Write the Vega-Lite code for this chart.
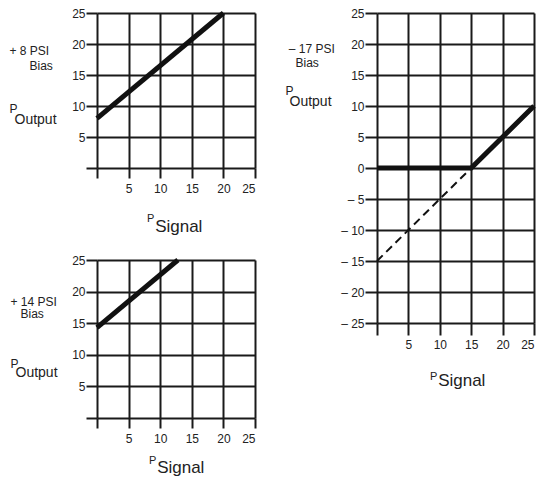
{
  "$schema": "https://vega.github.io/schema/vega-lite/v6.json",
  "background": "white",
  "padding": {"left": 9, "top": 3, "right": 0, "bottom": 0},
  "config": {
    "font": "Liberation Sans",
    "view": {"stroke": null},
    "axis": {
      "grid": true,
      "gridColor": "#1a1a1a",
      "gridWidth": 2,
      "gridOpacity": 1,
      "domain": false,
      "tickColor": "#1a1a1a",
      "tickWidth": 2,
      "labelFontSize": 12,
      "labelColor": "#222222",
      "titleColor": "#222222",
      "titleFontWeight": "normal",
      "titleAngle": 0,
      "titleAlign": "left",
      "titleBaseline": "alphabetic"
    },
    "axisX": {"tickSize": 10, "labelPadding": 5},
    "axisY": {"tickSize": 11, "labelPadding": 1},
    "title": {
      "orient": "bottom",
      "anchor": "start",
      "frame": "group",
      "align": "left",
      "fontSize": 11,
      "fontWeight": "normal",
      "color": "#222222",
      "subtitleFontSize": 17,
      "subtitleColor": "#222222",
      "subtitleFontWeight": "normal"
    }
  },
  "datasets": {
    "plus8": [
      {"signal": 0, "output": 8},
      {"signal": 20, "output": 25}
    ],
    "plus14": [
      {"signal": 0, "output": 14.3},
      {"signal": 12.8, "output": 25}
    ],
    "minus17": [
      {"series": "output", "signal": 0, "output": 0},
      {"series": "output", "signal": 15, "output": 0},
      {"series": "output", "signal": 25, "output": 10},
      {"series": "extrapolated", "signal": 0, "output": -15},
      {"series": "extrapolated", "signal": 15, "output": 0}
    ]
  },
  "spacing": 29,
  "hconcat": [
    {
      "spacing": 15,
      "vconcat": [
        {
          "width": 158,
          "height": 155,
          "data": {"name": "plus8"},
          "title": {"text": "P", "subtitle": "\u200b\u00a0\u2009Signal", "dx": 50, "offset": 19, "subtitlePadding": -5},
          "mark": {"type": "line", "strokeWidth": 5, "color": "#111111"},
          "encoding": {
            "x": {
              "field": "signal", "type": "quantitative",
              "scale": {"domain": [0, 25], "nice": false},
              "axis": {
                "values": [0, 5, 10, 15, 20, 25],
                "labelExpr": "datum.value == 0 ? '' : datum.label",
                "title": "Output", "titleFontSize": 14, "titleX": -83, "titleY": -45
              }
            },
            "y": {
              "field": "output", "type": "quantitative",
              "scale": {"domain": [0, 25], "nice": false},
              "axis": {
                "values": [0, 5, 10, 15, 20, 25],
                "labelExpr": "datum.value == 0 ? '' : datum.label",
                "title": ["+ 8 PSI", "\u200b\u00a0\u00a0\u00a0\u00a0\u00a0\u00a0Bias", "\u200b", "\u200b", "P"],
                "titleFontSize": 12, "titleLineHeight": 14.5, "titleX": -88, "titleY": 41.5
              }
            }
          }
        },
        {
          "width": 158,
          "height": 158,
          "data": {"name": "plus14"},
          "title": {"text": "P", "subtitle": "\u200b\u00a0\u2009Signal", "dx": 52, "offset": 11, "subtitlePadding": -6},
          "mark": {"type": "line", "strokeWidth": 5, "color": "#111111"},
          "encoding": {
            "x": {
              "field": "signal", "type": "quantitative",
              "scale": {"domain": [0, 25], "nice": false},
              "axis": {
                "values": [0, 5, 10, 15, 20, 25],
                "labelExpr": "datum.value == 0 ? '' : datum.label",
                "title": "Output", "titleFontSize": 14, "titleX": -82, "titleY": -42
              }
            },
            "y": {
              "field": "output", "type": "quantitative",
              "scale": {"domain": [0, 25], "nice": false},
              "axis": {
                "values": [0, 5, 10, 15, 20, 25],
                "labelExpr": "datum.value == 0 ? '' : datum.label",
                "title": ["+ 14 PSI", "\u200b\u00a0\u00a0\u00a0Bias", "\u200b", "\u200b", "\u200b", "P"],
                "titleFontSize": 12, "titleLineHeight": 12.4, "titleX": -87, "titleY": 45.5
              }
            }
          }
        }
      ]
    },
    {
      "width": 157,
      "height": 310,
      "data": {"name": "minus17"},
      "title": {"text": "P", "subtitle": "\u200b\u00a0\u2009Signal", "dx": 53, "offset": 21, "subtitlePadding": -9},
      "encoding": {
        "x": {
          "field": "signal", "type": "quantitative",
          "scale": {"domain": [0, 25], "nice": false},
          "axis": {
            "values": [0, 5, 10, 15, 20, 25],
            "labelExpr": "datum.value == 0 ? '' : datum.label",
            "tickSize": 12, "labelPadding": 4,
            "title": "Output", "titleFontSize": 14, "titleX": -88, "titleY": -218
          }
        },
        "y": {
          "field": "output", "type": "quantitative",
          "scale": {"domain": [-25, 25], "nice": false},
          "axis": {
            "values": [-25, -20, -15, -10, -5, 0, 5, 10, 15, 20, 25],
            "labelExpr": "datum.value < 0 ? '\u2013 ' + abs(datum.value) : datum.label",
            "tickSize": 12, "labelPadding": 1,
            "title": ["\u200b\u00a0\u2013 17 PSI", "\u200b\u00a0\u00a0\u00a0Bias", "\u200b", "P"],
            "titleFontSize": 12, "titleLineHeight": 14, "titleX": -92, "titleY": 39.5
          }
        }
      },
      "layer": [
        {
          "transform": [{"filter": "datum.series == 'extrapolated'"}],
          "mark": {"type": "line", "strokeWidth": 2, "strokeDash": [8, 5], "color": "#111111"}
        },
        {
          "transform": [{"filter": "datum.series == 'output'"}],
          "mark": {"type": "line", "strokeWidth": 5, "color": "#111111"}
        }
      ]
    }
  ]
}
